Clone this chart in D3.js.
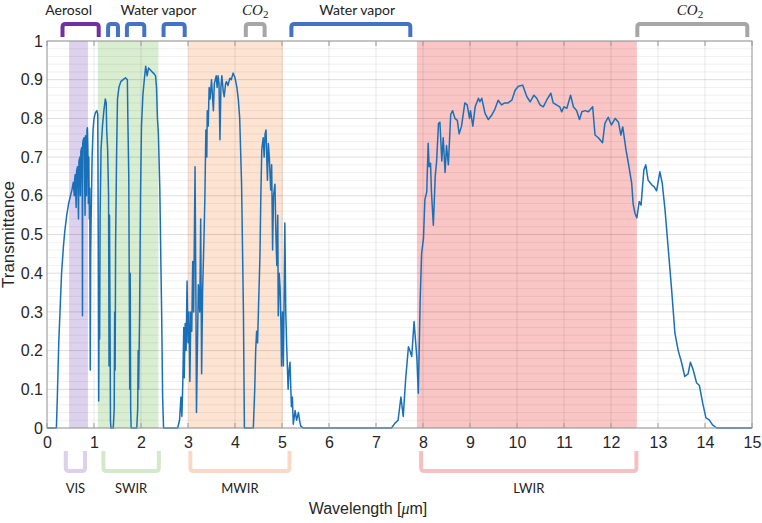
<!DOCTYPE html>
<html><head><meta charset="utf-8">
<script src="https://cdn.jsdelivr.net/npm/d3@7"></script>
<style>
html,body{margin:0;padding:0;background:#fff;}
svg{display:block;}
</style></head>
<body>
<svg id="chart" width="762" height="523"></svg>
<script>
// ---- data ----
const wavelength = [
0.0,0.2,0.22,0.25,0.28,0.31,0.35,0.38,0.42,0.46,0.5,0.53,0.56,0.58,0.59,0.6,0.62,0.63,0.65,0.67,0.68,0.7,0.71,0.72,0.74,0.75,0.755,0.76,0.77,0.79,0.81,0.82,0.84,0.85,0.86,0.87,0.88,0.89,0.9,0.91,0.92,0.93,0.94,0.96,0.98,
1.0,1.03,1.06,1.08,1.09,1.1,1.11,1.12,1.13,1.15,1.18,1.21,1.24,1.26,1.27,1.29,1.31,1.32,1.33,1.34,1.35,1.36,1.41,1.43,1.44,1.45,1.46,1.48,1.5,1.53,1.57,1.62,1.67,1.71,1.72,1.74,1.76,1.77,1.78,1.79,1.91,1.93,1.94,1.95,1.97,1.99,
2.01,2.04,2.07,2.1,2.13,2.16,2.2,2.24,2.28,2.31,2.33,2.35,2.37,2.4,2.42,2.44,2.46,2.48,2.78,2.82,2.85,2.87,2.89,2.91,2.92,2.94,2.96,2.98,
3.0,3.02,3.04,3.06,3.08,3.1,3.12,3.15,3.17,3.18,3.2,3.22,3.25,3.27,3.29,3.31,3.34,3.36,3.38,3.4,3.41,3.43,3.45,3.47,3.5,3.52,3.54,3.56,3.6,3.62,3.64,3.66,3.68,3.7,3.72,3.75,3.77,3.8,3.82,3.85,3.89,3.92,3.96,
4.0,4.04,4.07,4.1,4.14,4.17,4.18,4.2,4.39,4.42,4.44,4.46,4.48,4.5,4.53,4.55,4.57,4.6,4.62,4.64,4.66,4.68,4.69,4.71,4.73,4.76,4.78,4.8,4.82,4.85,4.87,4.89,4.91,4.92,4.94,4.96,4.98,4.99,
5.01,5.03,5.05,5.06,5.08,5.1,5.13,5.15,5.17,5.2,5.22,5.24,5.28,5.31,5.35,5.38,5.4,5.45,
7.33,7.4,7.47,7.53,7.58,7.63,7.69,7.72,7.76,7.81,7.87,7.9,7.94,7.97,8.01,8.04,8.08,8.11,8.13,8.16,8.18,8.22,8.26,8.29,8.33,8.36,8.4,8.43,8.47,8.5,8.54,8.59,8.63,8.68,8.73,8.77,8.82,8.89,8.94,8.99,
9.01,9.06,9.11,9.18,9.21,9.25,9.32,9.39,9.46,9.53,9.6,9.67,9.74,9.81,9.89,9.96,
10.03,10.12,10.21,10.28,10.36,10.42,10.49,10.56,10.63,10.72,10.77,10.84,10.91,10.95,
11.0,11.06,11.14,11.2,11.27,11.33,11.38,11.45,11.52,11.61,11.66,11.73,11.82,11.87,11.94,
12.01,12.09,12.16,12.21,12.25,12.32,12.37,12.44,12.47,12.51,12.55,12.6,12.64,12.67,12.7,12.74,12.79,12.87,12.92,12.97,
13.04,13.09,13.15,13.22,13.29,13.36,13.43,13.5,13.57,13.64,13.69,13.75,13.82,13.88,13.95,
14.02,14.09,14.16,14.25,15.0
];
const transmittance = [
0,0,0.08,0.22,0.31,0.4,0.47,0.51,0.55,0.58,0.6,0.615,0.635,0.6,0.645,0.655,0.57,0.665,0.675,0.54,0.69,0.7,0.6,0.715,0.725,0.6,0.29,0.735,0.744,0.75,0.55,0.755,0.6,0.77,0.776,0.72,0.58,0.7,0.54,0.62,0.15,0.45,0.55,0.7,0.77,
0.8,0.815,0.82,0.81,0.5,0.07,0.35,0.23,0.55,0.72,0.78,0.82,0.85,0.84,0.77,0.72,0.6,0.16,0.55,0.3,0.02,0,0,0.05,0.3,0.15,0.48,0.7,0.85,0.88,0.895,0.9,0.905,0.9,0.8,0.65,0.1,0.4,0.05,0,0,0.05,0.2,0.1,0.29,0.6,
0.78,0.86,0.9,0.935,0.91,0.93,0.925,0.92,0.915,0.91,0.88,0.8,0.76,0.62,0.45,0.29,0.08,0,0,0.02,0.08,0.03,0.12,0.26,0.13,0.27,0.2,0.38,
0.22,0.3,0.12,0.3,0.25,0.43,0.3,0.675,0.3,0.04,0.2,0.37,0.3,0.54,0.14,0.35,0.49,0.6,0.77,0.7,0.82,0.78,0.88,0.85,0.9,0.86,0.82,0.89,0.91,0.88,0.91,0.89,0.745,0.88,0.91,0.87,0.856,0.89,0.895,0.885,0.904,0.9,0.917,
0.905,0.88,0.85,0.8,0.63,0.38,0.29,0,0,0.1,0.2,0.25,0.22,0.31,0.44,0.6,0.72,0.75,0.7,0.76,0.77,0.68,0.64,0.735,0.7,0.615,0.68,0.46,0.6,0.63,0.5,0.42,0.55,0.29,0.4,0.36,0.25,0.16,
0.3,0.16,0.4,0.53,0.3,0.21,0.1,0.15,0.17,0.055,0.08,0.01,0.045,0.02,0.04,0.015,0.005,0,
0,0.012,0.02,0.08,0.03,0.125,0.21,0.2,0.185,0.275,0.18,0.09,0.33,0.45,0.49,0.59,0.61,0.736,0.675,0.684,0.61,0.524,0.65,0.69,0.787,0.79,0.69,0.75,0.66,0.73,0.68,0.81,0.82,0.8,0.795,0.76,0.78,0.84,0.835,0.8,
0.82,0.78,0.83,0.852,0.843,0.852,0.813,0.797,0.808,0.824,0.847,0.835,0.84,0.84,0.847,0.873,
0.883,0.886,0.856,0.843,0.86,0.852,0.835,0.83,0.847,0.865,0.84,0.835,0.83,0.817,
0.83,0.826,0.86,0.83,0.82,0.797,0.817,0.82,0.817,0.83,0.757,0.75,0.737,0.787,0.803,
0.783,0.8,0.79,0.757,0.778,0.718,0.684,0.633,0.58,0.555,0.543,0.585,0.576,0.623,0.667,0.68,0.64,0.628,0.623,0.613,
0.662,0.633,0.563,0.46,0.357,0.245,0.2,0.17,0.133,0.14,0.17,0.15,0.117,0.11,0.065,
0.026,0.021,0.008,0,0
];
const xTicks = [0,1,2,3,4,5,6,7,8,9,10,11,12,13,14,15];
const yTicks = [0,0.1,0.2,0.3,0.4,0.5,0.6,0.7,0.8,0.9,1];

const bandNames  = ["VIS","SWIR","MWIR","LWIR"];
const bandStart  = [0.47,1.08,3.0,7.87];
const bandEnd    = [0.87,2.37,5.02,12.55];
const bandFill   = ["#ddd1ee","#d9edd0","#fde3d2","#f9c5c5"];
const bandBracketStart = [0.4,1.2,3.05,7.96];
const bandBracketEnd   = [0.81,2.38,5.16,12.54];
const bandBracketColor = ["#dcd0ec","#d4e8ca","#f9d9c6","#f6c0c0"];

const absorberStart = [0.33,1.3,1.7,2.48,4.23,5.2,12.56];
const absorberEnd   = [1.1,1.51,2.07,2.93,4.63,7.73,14.9];
const absorberColor = ["#7030a0","#4472c4","#4472c4","#4472c4","#a6a6a6","#4472c4","#a6a6a6"];
const absorberLabels = ["Aerosol","Water vapor","CO2","Water vapor","CO2"];
const absorberLabelX = [0.46,2.37,4.43,6.6,13.68];

// ---- drawing ----
const svg = d3.select("#chart");
const x = d3.scaleLinear().domain([0,15]).range([47,752]);
const y = d3.scaleLinear().domain([0,1]).range([428,41]);

svg.append("rect").attr("width",762).attr("height",523).attr("fill","#fff");

// bands shading
svg.append("g").selectAll("rect").data(bandNames).join("rect")
  .attr("x",(d,i)=>x(bandStart[i])).attr("width",(d,i)=>x(bandEnd[i])-x(bandStart[i]))
  .attr("y",y(1)).attr("height",y(0)-y(1)).attr("fill",(d,i)=>bandFill[i]);

// grid
const grid = svg.append("g");
const minor = d3.range(0,1.0001,0.02);
grid.selectAll("line.hmin").data(minor).join("line").attr("class","hmin")
  .attr("x1",x(0)).attr("x2",x(15)).attr("y1",d=>y(d)).attr("y2",d=>y(d))
  .attr("stroke","#000").attr("stroke-opacity",0.06).attr("stroke-width",1);
grid.selectAll("line.hmaj").data(yTicks).join("line").attr("class","hmaj")
  .attr("x1",x(0)).attr("x2",x(15)).attr("y1",d=>y(d)).attr("y2",d=>y(d))
  .attr("stroke","#000").attr("stroke-opacity",0.08).attr("stroke-width",1);
grid.selectAll("line.vmaj").data(xTicks).join("line").attr("class","vmaj")
  .attr("y1",y(0)).attr("y2",y(1)).attr("x1",d=>x(d)).attr("x2",d=>x(d))
  .attr("stroke","#000").attr("stroke-opacity",0.09).attr("stroke-width",1);

// curve
const pts = wavelength.map((w,i)=>[w,transmittance[i]]);
svg.append("path").datum(pts)
  .attr("fill","none").attr("stroke","#1a70b8").attr("stroke-width",1.5)
  .attr("stroke-linejoin","round")
  .attr("d",d3.line().x(d=>x(d[0])).y(d=>y(d[1])));

// frame
svg.append("rect").attr("x",x(0)).attr("y",y(1)).attr("width",x(15)-x(0)).attr("height",y(0)-y(1))
  .attr("fill","none").attr("stroke","#9a9a9a").attr("stroke-width",1);

// axes
const xAxis = svg.append("g").attr("transform",`translate(0,${y(0)})`)
  .call(d3.axisBottom(x).tickValues(xTicks).tickSize(0).tickPadding(9).tickFormat(d3.format("d")));
const yAxis = svg.append("g").attr("transform",`translate(${x(0)-4},0)`)
  .call(d3.axisLeft(y).tickValues(yTicks).tickSize(0).tickPadding(0).tickFormat(d=>d3.format("~g")(d)));
[xAxis,yAxis].forEach(a=>{
  a.select(".domain").remove();
  a.selectAll("text").attr("font-family","Liberation Sans, Arial, sans-serif").attr("font-size",16).attr("fill","#262626");
});

// ticks on top/bottom
svg.append("g").selectAll("line").data(xTicks).join("line")
  .attr("x1",d=>x(d)).attr("x2",d=>x(d)).attr("y1",y(0)).attr("y2",y(0)-5)
  .attr("stroke","#9a9a9a");
svg.append("g").selectAll("line").data(xTicks).join("line")
  .attr("x1",d=>x(d)).attr("x2",d=>x(d)).attr("y1",y(1)).attr("y2",y(1)+5)
  .attr("stroke","#9a9a9a");

// axis titles
svg.append("text").attr("transform",`translate(14,${(y(0)+y(1))/2}) rotate(-90)`)
  .attr("text-anchor","middle").attr("font-family","Liberation Sans, Arial, sans-serif")
  .attr("font-size",17).attr("fill","#262626").text("Transmittance");
const xt = svg.append("text").attr("x",368).attr("y",514).attr("text-anchor","middle")
  .attr("font-family","Liberation Sans, Arial, sans-serif").attr("font-size",16).attr("fill","#262626");
xt.append("tspan").text("Wavelength [");
xt.append("tspan").attr("font-style","italic").attr("font-family","Liberation Serif, serif").text("μ");
xt.append("tspan").text("m]");

// bracket helpers
function capPath(x1,x2,yTop,yBot,r){ // ∩ shape
  return `M${x1},${yBot} L${x1},${yTop+r} Q${x1},${yTop} ${x1+r},${yTop} L${x2-r},${yTop} Q${x2},${yTop} ${x2},${yTop+r} L${x2},${yBot}`;
}
function cupPath(x1,x2,yTop,yBot,r){ // ∪ shape
  return `M${x1},${yTop} L${x1},${yBot-r} Q${x1},${yBot} ${x1+r},${yBot} L${x2-r},${yBot} Q${x2},${yBot} ${x2},${yBot-r} L${x2},${yTop}`;
}

// top absorber brackets
svg.append("g").selectAll("path").data(absorberStart).join("path")
  .attr("d",(d,i)=>capPath(x(absorberStart[i]),x(absorberEnd[i]),24,37,3))
  .attr("fill","none").attr("stroke",(d,i)=>absorberColor[i]).attr("stroke-width",4);

const lab = svg.append("g");
absorberLabels.forEach((t,i)=>{
  const tx = lab.append("text").attr("x",x(absorberLabelX[i])).attr("y",15)
    .attr("text-anchor","middle").attr("fill","#222");
  if(t==="CO2"){
    tx.attr("font-family","Liberation Serif, DejaVu Serif, serif").attr("font-size",15);
    tx.append("tspan").attr("font-style","italic").text("CO");
    tx.append("tspan").attr("font-size",11).attr("dy",3).text("2");
  } else {
    tx.attr("font-family","Lato, sans-serif").attr("font-size",14).text(t);
  }
});

// bottom band brackets
svg.append("g").selectAll("path").data(bandNames).join("path")
  .attr("d",(d,i)=>cupPath(x(bandBracketStart[i]),x(bandBracketEnd[i]),451,471,3))
  .attr("fill","none").attr("stroke",(d,i)=>bandBracketColor[i]).attr("stroke-width",4);
svg.append("g").selectAll("text").data(bandNames).join("text")
  .attr("x",(d,i)=>(x(bandBracketStart[i])+x(bandBracketEnd[i]))/2).attr("y",493)
  .attr("text-anchor","middle").attr("font-family","Lato, sans-serif").attr("font-size",13)
  .attr("fill","#222").text(d=>d);
</script>
</body></html>
